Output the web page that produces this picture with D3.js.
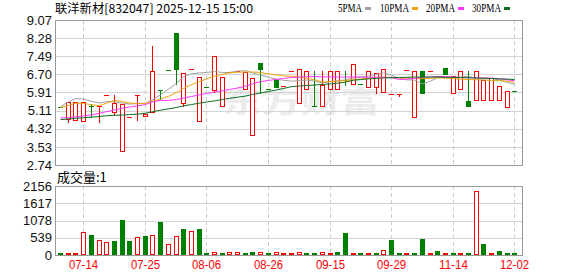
<!DOCTYPE html>
<html>
<head>
<meta charset="utf-8">
<script src="https://cdn.jsdelivr.net/npm/d3@7"></script>
<style>
  body { margin: 0; background: #fff; }
  svg { display: block; }
</style>
</head>
<body>
<script>
// trading days that had a deal
var dates = ["07-09","07-10","07-11","07-14","07-15","07-16","07-17","07-18","07-21","07-22",
  "07-24","07-25","07-28","07-29","07-30","07-31","08-01","08-04","08-05","08-06",
  "08-08","08-11","08-13","08-14","08-18","08-20","08-22","08-26","08-28","09-01",
  "09-03","09-05","09-08","09-10","09-11","09-15","09-16","09-17","09-19","09-22",
  "09-23","09-24","09-26","09-29","10-09","10-13","10-16","10-20","10-23","10-28",
  "11-05","11-14","11-17","11-18","11-20","11-21","11-24","11-26","11-28","12-02"];

var opens = [5.29,4.71,4.66,4.61,5.31,5.30,5.81,5.00,3.30,4.83,
  5.75,4.85,5.00,6.00,6.88,8.51,5.40,6.94,4.61,6.14,
  5.99,5.29,6.80,6.84,6.03,4.01,7.19,6.04,6.49,6.20,
  6.85,5.41,6.03,5.30,5.29,6.03,6.03,6.44,6.24,6.28,
  6.10,6.10,5.88,5.85,5.84,6.90,4.78,6.84,6.86,6.64,
  6.98,5.84,6.03,5.54,5.54,5.54,5.54,5.54,5.22,5.95];
var highs = [5.29,5.50,5.50,5.51,5.41,5.32,5.81,5.81,5.42,4.83,
  5.81,4.97,7.92,6.00,6.88,8.51,6.76,6.94,6.58,6.14,
  7.51,6.58,6.80,6.84,6.81,6.54,7.19,6.04,6.49,6.20,
  6.85,6.93,6.84,6.83,6.86,6.84,6.83,6.83,7.15,6.28,
  6.84,6.76,6.93,5.85,5.84,6.90,6.84,6.84,6.86,6.64,
  6.98,6.64,6.84,6.86,6.84,6.46,6.54,6.20,5.98,5.95];
var lows = [5.28,4.57,4.66,4.61,4.77,4.57,5.81,4.86,3.30,4.83,
  4.64,4.85,5.00,5.59,6.87,6.24,5.29,6.94,4.61,6.13,
  5.88,5.29,6.80,6.84,6.03,4.01,5.84,6.03,6.10,6.20,
  6.85,5.41,6.03,5.29,5.29,6.03,6.03,6.17,6.24,6.27,
  6.10,5.84,5.88,5.85,5.71,6.90,4.78,5.84,6.86,6.57,
  6.67,5.84,6.03,5.29,5.54,5.54,5.54,5.54,5.22,5.94];
var closes = [5.28,5.50,5.50,5.51,5.28,5.32,5.81,5.44,5.42,4.83,
  5.79,4.97,6.86,5.96,6.87,6.87,6.76,6.94,6.58,6.13,
  7.51,6.58,6.80,6.84,6.81,6.54,6.87,6.03,6.10,6.20,
  6.85,6.93,6.84,5.29,6.24,6.84,6.83,6.42,7.15,6.27,
  6.84,6.76,6.93,5.85,5.84,6.90,6.84,5.84,6.86,6.57,
  6.67,6.64,6.84,5.29,6.84,6.46,6.54,6.20,5.98,5.94];
var preClose = 5.30;

var volumes = [31,20,20,720,625,469,406,448,1094,448,
  552,594,625,1042,340,590,805,755,805,30,
  104,30,83,104,30,83,83,30,104,31,
  31,83,31,31,83,31,94,687,31,31,
  31,31,146,469,31,31,31,500,31,125,
  31,31,31,31,2000,344,52,125,31,1];

var ma5 = [5.29,5.50,5.64,5.62,5.52,5.45,5.50,5.50,5.44,5.40,
  5.42,5.44,5.58,5.80,6.05,6.30,6.60,6.72,6.76,6.78,
  6.82,6.78,6.78,6.84,6.86,6.76,6.66,6.58,6.48,6.44,
  6.40,6.42,6.45,6.40,6.32,6.38,6.42,6.45,6.55,6.58,
  6.62,6.70,6.76,6.66,6.52,6.46,6.44,6.28,6.40,6.55,
  6.56,6.56,6.58,6.62,6.50,6.50,6.52,6.45,6.34,6.27];
var ma10 = [5.25,5.34,5.44,5.43,5.37,5.33,5.44,5.56,5.51,5.45,
  5.42,5.43,5.52,5.62,5.74,5.90,6.08,6.25,6.38,6.50,
  6.62,6.70,6.76,6.79,6.80,6.80,6.78,6.72,6.67,6.63,
  6.61,6.58,6.52,6.46,6.36,6.38,6.40,6.43,6.47,6.49,
  6.53,6.56,6.58,6.56,6.54,6.53,6.52,6.51,6.52,6.55,
  6.53,6.52,6.48,6.47,6.46,6.45,6.43,6.42,6.40,6.36];
var ma20 = [4.79,4.81,4.84,4.88,4.93,5.00,5.07,5.14,5.22,5.27,
  5.32,5.38,5.50,5.56,5.56,5.60,5.66,5.73,5.80,5.86,
  5.92,5.98,6.04,6.10,6.18,6.28,6.38,6.43,6.48,6.52,
  6.56,6.58,6.60,6.60,6.59,6.59,6.58,6.58,6.58,6.58,
  6.57,6.57,6.57,6.55,6.47,6.49,6.52,6.56,6.59,6.60,
  6.60,6.58,6.56,6.55,6.55,6.54,6.53,6.50,6.46,6.42];
var ma30 = [4.72,4.75,4.78,4.80,4.83,4.86,4.89,4.91,4.92,4.94,
  4.96,5.00,5.07,5.13,5.19,5.25,5.32,5.38,5.44,5.49,
  5.54,5.60,5.65,5.70,5.75,5.82,5.88,5.95,6.02,6.08,
  6.16,6.19,6.21,6.23,6.26,6.28,6.31,6.36,6.44,6.47,
  6.50,6.52,6.54,6.55,6.56,6.57,6.58,6.58,6.58,6.58,
  6.57,6.57,6.56,6.55,6.54,6.53,6.52,6.50,6.49,6.47];

var priceTicks = ["9.07","8.28","7.49","6.70","5.91","5.11","4.32","3.53","2.74"];
var volTicks = [2156, 1617, 1078, 539, 0];
var tickDates = ["07-14","07-25","08-06","08-26","09-15","09-29","11-14","12-02"];

var maNames = ["5PMA", "10PMA", "20PMA", "30PMA"];
var maColors = ["#a0a0a0", "#f0a30a", "#ff33ff", "#0b6e1e"];

var RED = "#ff0000", GREEN = "#008000";
var FONT = "'Liberation Sans', Arial, sans-serif";

var svg = d3.select("body").append("svg").attr("width", 578).attr("height", 276);

var x = d3.scalePoint().domain(dates).range([60, 514.3]);
var y = d3.scaleLinear().domain([2.74, 9.07]).range([165, 20]);
var yv = d3.scaleLinear().domain([0, 2156]).range([255, 186]);
var px = function (d) { return Math.round(x(d)); };
var crisp = function (v) { return Math.round(v) + 0.5; };

// title
svg.append("text").attr("x", 55).attr("y", 12.5)
  .style("font-family", "'Noto Sans CJK SC', sans-serif").style("font-size", "12px")
  .attr("textLength", 198).attr("lengthAdjust", "spacingAndGlyphs")
  .text("联洋新材[832047] 2025-12-15 15:00");

// legend
var legX = [338, 380, 426, 472];
var legW = [24, 29, 29, 29];
maNames.forEach(function (n, i) {
  svg.append("text").attr("x", legX[i]).attr("y", 12)
    .style("font-family", "'Liberation Serif', serif").style("font-size", "12px")
    .attr("textLength", legW[i]).attr("lengthAdjust", "spacingAndGlyphs")
    .text(n);
  svg.append("rect").attr("x", legX[i] + legW[i] + 3).attr("y", 7)
    .attr("width", 6).attr("height", 3).attr("fill", maColors[i]);
});

// watermark
svg.append("text").attr("x", 222).attr("y", 112)
  .style("font-family", "'Noto Sans CJK SC', sans-serif").style("font-size", "30px")
  .style("font-weight", "bold").attr("fill", "#ececec")
  .attr("textLength", 158).attr("lengthAdjust", "spacingAndGlyphs")
  .text("东方财富");

// grids, labels and frame of one panel
function panel(top, bottom, ticks, sc, labels) {
  var g = svg.append("g");
  ticks.forEach(function (t, i) {
    var yy = crisp(sc(+t));
    g.append("line").attr("x1", 55.5).attr("x2", 522.5).attr("y1", yy).attr("y2", yy)
      .attr("stroke", "#d4d4d4");
    g.append("text").attr("x", 52).attr("y", sc(+t)).attr("dy", "0.36em")
      .attr("text-anchor", "end")
      .style("font-family", FONT).style("font-size", "13px").attr("fill", "#111")
      .text(labels[i]);
  });
  tickDates.forEach(function (d) {
    var xx = px(d) + 0.5;
    g.append("line").attr("x1", xx).attr("x2", xx).attr("y1", top).attr("y2", bottom)
      .attr("stroke", "#cccccc").attr("stroke-dasharray", "4,3");
  });
  g.append("rect").attr("x", 55.5).attr("y", top + 0.5)
    .attr("width", 467).attr("height", bottom - top)
    .attr("fill", "none").attr("stroke", "#999");
}
panel(20, 165, priceTicks, y, priceTicks);
panel(186, 255, volTicks, yv, volTicks.map(String));

// candles
var cg = svg.append("g");
dates.forEach(function (d, i) {
  var o = opens[i], c = closes[i], up = c >= o;
  var col = up ? RED : GREEN;
  var cx = px(d);
  var top = Math.round(y(Math.max(o, c))), bot = Math.round(y(Math.min(o, c)));
  var hi = Math.round(y(highs[i])), lo = Math.round(y(lows[i]));
  if (hi < top) cg.append("line").attr("x1", cx + 0.5).attr("x2", cx + 0.5)
    .attr("y1", hi).attr("y2", top).attr("stroke", col);
  if (lo > bot) cg.append("line").attr("x1", cx + 0.5).attr("x2", cx + 0.5)
    .attr("y1", bot).attr("y2", lo).attr("stroke", col);
  if (bot - top < 2) {
    cg.append("rect").attr("x", cx - 2).attr("y", top).attr("width", 5)
      .attr("height", Math.max(1, bot - top)).attr("fill", col);
  } else if (up) {
    cg.append("rect").attr("x", cx - 1.5).attr("y", top + 0.5).attr("width", 4)
      .attr("height", bot - top - 1).attr("fill", "#fff").attr("stroke", col);
  } else {
    cg.append("rect").attr("x", cx - 2).attr("y", top).attr("width", 5)
      .attr("height", bot - top).attr("fill", col);
  }
});

// moving averages
var line = d3.line()
  .x(function (v, i) { return px(dates[i]) + 0.5; })
  .y(function (v) { return y(v); });
[ma5, ma10, ma20, ma30].forEach(function (s, k) {
  svg.append("path").attr("d", line(s)).attr("fill", "none")
    .attr("stroke", maColors[k]).attr("stroke-width", 1);
});

// volume, coloured by close against the previous close
var vg = svg.append("g");
volumes.forEach(function (v, i) {
  var prev = i === 0 ? preClose : closes[i - 1];
  var up = closes[i] >= prev;
  var col = up ? RED : GREEN;
  var cx = px(dates[i]);
  var top = Math.min(Math.round(yv(v)), 253);
  var h = 255 - top;
  if (up && h > 2) {
    vg.append("rect").attr("x", cx - 1.5).attr("y", top + 0.5).attr("width", 4)
      .attr("height", h - 1).attr("fill", "#fff").attr("stroke", col);
  } else {
    vg.append("rect").attr("x", cx - 2).attr("y", top).attr("width", 5)
      .attr("height", h).attr("fill", col);
  }
});

svg.append("text").attr("x", 57).attr("y", 182)
  .style("font-family", "'Noto Sans CJK SC', sans-serif").style("font-size", "13px")
  .text("成交量:" + volumes[volumes.length - 1]);

// date labels
tickDates.forEach(function (d) {
  svg.append("text").attr("x", px(d) + 0.5).attr("y", 269)
    .attr("text-anchor", "middle").attr("fill", RED)
    .style("font-family", FONT).style("font-size", "12px")
    .attr("textLength", 29).attr("lengthAdjust", "spacingAndGlyphs")
    .text(d);
});
</script>
</body>
</html>
